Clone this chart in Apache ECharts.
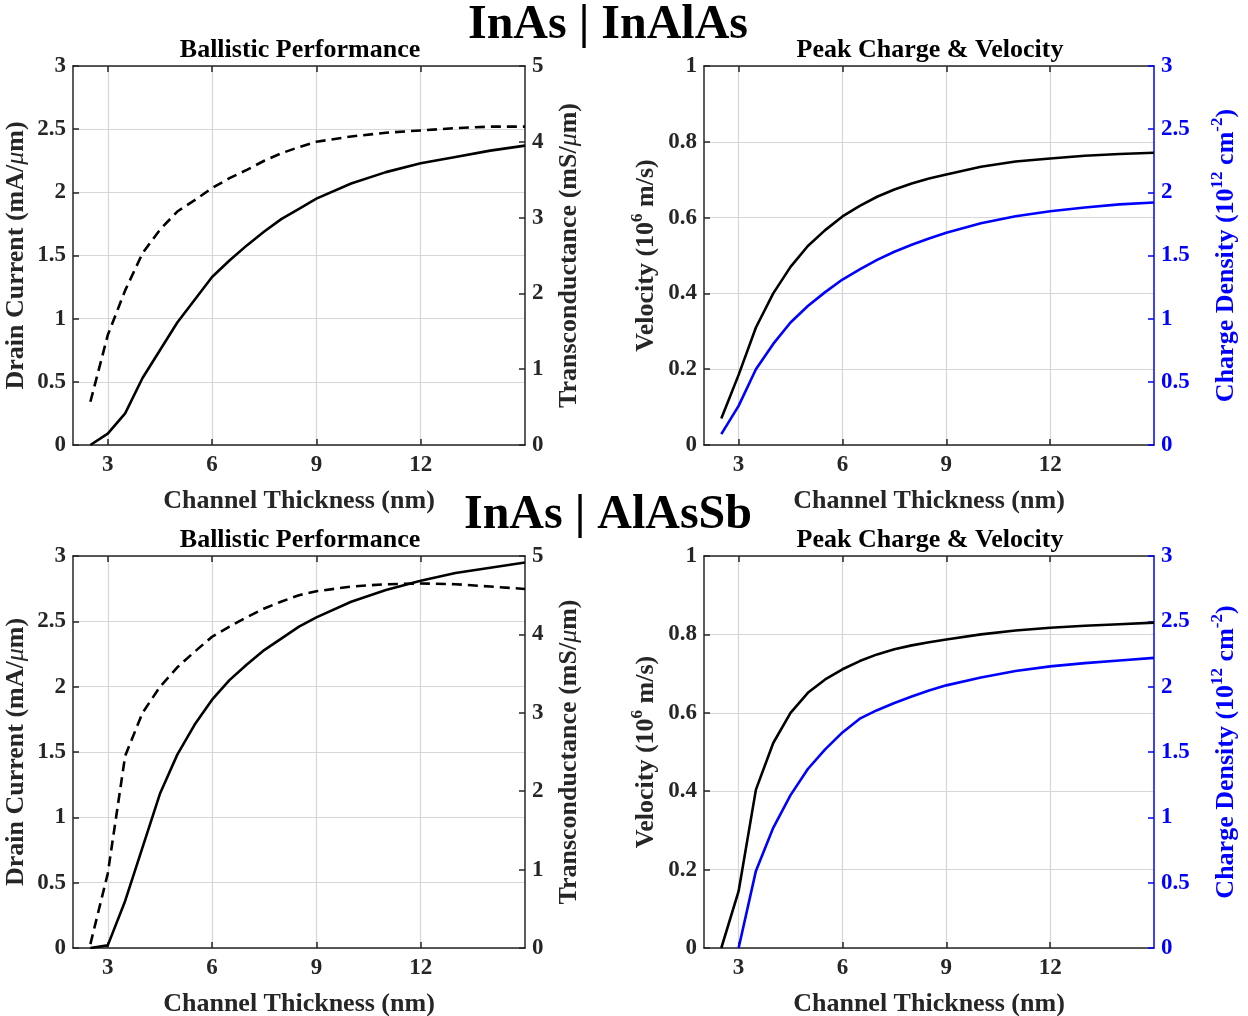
<!DOCTYPE html>
<html>
<head>
<meta charset="utf-8">
<script src="https://cdn.jsdelivr.net/npm/echarts@6/dist/echarts.min.js"></script>
<style>html,body{margin:0;padding:0;background:#fff}#c{width:1248px;height:1016px}</style>
</head>
<body>
<div id="c"></div>
<script>
// ---- data ----
const thickness = [2.5, 3, 3.5, 4, 4.5, 5, 5.5, 6, 6.5, 7, 7.5, 8, 8.5, 9, 10, 11, 12, 13, 14, 15];
const xTicks = [3, 6, 9, 12];

// InAs | InAlAs
const inalasDrainCurrent = [0, 0.09, 0.25, 0.53, 0.75, 0.97, 1.15, 1.33, 1.46, 1.58, 1.69, 1.79, 1.87, 1.95, 2.07, 2.16, 2.23, 2.28, 2.33, 2.37];
const inalasTransconductance = [0.57, 1.45, 2.04, 2.53, 2.84, 3.08, 3.23, 3.39, 3.52, 3.63, 3.75, 3.85, 3.93, 4.0, 4.07, 4.12, 4.15, 4.18, 4.2, 4.2];
const inalasVelocity = [0.07, 0.185, 0.31, 0.40, 0.47, 0.525, 0.567, 0.603, 0.631, 0.655, 0.674, 0.69, 0.703, 0.714, 0.734, 0.748, 0.756, 0.763, 0.768, 0.771];
const inalasCharge = [0.086, 0.31, 0.60, 0.80, 0.97, 1.10, 1.21, 1.31, 1.39, 1.465, 1.53, 1.585, 1.635, 1.68, 1.755, 1.81, 1.85, 1.88, 1.905, 1.92];

// InAs | AlAsSb
const alassbDrainCurrent = [0, 0.02, 0.36, 0.77, 1.18, 1.48, 1.71, 1.90, 2.05, 2.17, 2.28, 2.37, 2.46, 2.53, 2.65, 2.74, 2.81, 2.87, 2.91, 2.95];
const alassbTransconductance = [0.05, 0.95, 2.45, 3.0, 3.33, 3.58, 3.78, 3.97, 4.1, 4.22, 4.33, 4.42, 4.5, 4.55, 4.61, 4.64, 4.65, 4.64, 4.61, 4.58];
const alassbVelocity = [0, 0.145, 0.404, 0.523, 0.60, 0.651, 0.685, 0.711, 0.732, 0.749, 0.762, 0.772, 0.78, 0.787, 0.80, 0.81, 0.817, 0.822, 0.826, 0.83];
const alassbCharge = [null, 0, 0.59, 0.92, 1.17, 1.37, 1.52, 1.65, 1.755, 1.82, 1.875, 1.925, 1.97, 2.01, 2.07, 2.12, 2.155, 2.18, 2.20, 2.22];

// ---- chart ----
const FONT = 'Liberation Serif';
const AX = '#262626';
const BLUE = '#0000ff';
const GRIDC = '#d6d6d6';
function pairs(x, y) { return x.map((v, i) => [v, y[i]]); }

const grids = [
  {left: 73, top: 66, width: 452, height: 379, outerBoundsMode: 'none', containLabel: false},
  {left: 704, top: 66, width: 450, height: 379, outerBoundsMode: 'none', containLabel: false},
  {left: 73, top: 556, width: 452, height: 392, outerBoundsMode: 'none', containLabel: false},
  {left: 704, top: 556, width: 450, height: 392, outerBoundsMode: 'none', containLabel: false}
];

function nameStyle(color) {
  return {
    fontFamily: FONT, fontWeight: 'bold', fontSize: 26, color: color, lineHeight: 34,
    rich: {
      i: {fontFamily: FONT, fontStyle: 'italic', fontWeight: 'normal', fontSize: 26, lineHeight: 34, color: color},
      sup: {fontFamily: FONT, fontWeight: 'bold', fontSize: 17, lineHeight: 17, color: color, verticalAlign: 'top'}
    }
  };
}

const xAxes = [];
const yAxes = [];
for (let g = 0; g < 4; g++) {
  xAxes.push({
    type: 'value', gridIndex: g, min: 2, max: 15, position: 'bottom',
    axisLine: {show: true, onZero: false, lineStyle: {color: AX, width: 1.5}},
    axisTick: {show: true, inside: true, length: 6, customValues: xTicks, lineStyle: {color: AX, width: 1.5}},
    axisLabel: {customValues: xTicks, fontFamily: FONT, fontWeight: 'bold', fontSize: 23, color: AX, margin: 9},
    splitLine: {show: true, lineStyle: {color: GRIDC, width: 1.2}},
    name: 'Channel Thickness (nm)', nameLocation: 'middle', nameGap: 39,
    nameTextStyle: nameStyle(AX)
  });
  xAxes.push({
    type: 'value', gridIndex: g, min: 2, max: 15, position: 'top',
    axisLine: {show: true, onZero: false, lineStyle: {color: AX, width: 1.5}},
    axisTick: {show: true, inside: true, length: 6, customValues: xTicks, lineStyle: {color: AX, width: 1.5}},
    axisLabel: {show: false, customValues: xTicks},
    splitLine: {show: false}
  });
}

function yAxis(g, pos, min, max, interval, color, name, gap, split) {
  return {
    type: 'value', gridIndex: g, position: pos, min: min, max: max, interval: interval,
    axisLine: {show: true, onZero: false, lineStyle: {color: color, width: 1.5}},
    axisTick: {show: true, inside: true, length: 6, lineStyle: {color: color, width: 1.5}},
    axisLabel: {fontFamily: FONT, fontWeight: 'bold', fontSize: 23, color: color, margin: 7},
    splitLine: {show: split, lineStyle: {color: GRIDC, width: 1.2}},
    name: name, nameLocation: 'middle', nameRotate: 90, nameGap: gap,
    nameTextStyle: nameStyle(color)
  };
}

// grid 0: ballistic InAlAs
yAxes.push(yAxis(0, 'left', 0, 3, 0.5, AX, 'Drain Current (mA/{i|μ}m)', 40, true));
yAxes.push(yAxis(0, 'right', 0, 5, 1, AX, 'Transconductance (mS/{i|μ}m)', 27, false));
// grid 1: peak InAlAs
yAxes.push(yAxis(1, 'left', 0, 1, 0.2, AX, 'Velocity (10{sup|6} m/s)', 41, true));
yAxes.push(yAxis(1, 'right', 0, 3, 0.5, BLUE, 'Charge Density (10{sup|12} cm{sup|-2})', 55, false));
// grid 2: ballistic AlAsSb
yAxes.push(yAxis(2, 'left', 0, 3, 0.5, AX, 'Drain Current (mA/{i|μ}m)', 40, true));
yAxes.push(yAxis(2, 'right', 0, 5, 1, AX, 'Transconductance (mS/{i|μ}m)', 27, false));
// grid 3: peak AlAsSb
yAxes.push(yAxis(3, 'left', 0, 1, 0.2, AX, 'Velocity (10{sup|6} m/s)', 41, true));
yAxes.push(yAxis(3, 'right', 0, 3, 0.5, BLUE, 'Charge Density (10{sup|12} cm{sup|-2})', 55, false));

function line(xi, yi, data, color, dashed) {
  return {
    type: 'line', xAxisIndex: xi, yAxisIndex: yi, data: data,
    showSymbol: false, symbol: 'none', animation: false, z: 5,
    lineStyle: {color: color, width: 2.6, type: dashed ? [10, 6] : 'solid', join: 'round'}
  };
}

const series = [
  line(0, 0, pairs(thickness, inalasDrainCurrent), '#000', false),
  line(0, 1, pairs(thickness, inalasTransconductance), '#000', true),
  line(2, 2, pairs(thickness, inalasVelocity), '#000', false),
  line(2, 3, pairs(thickness, inalasCharge), BLUE, false),
  line(4, 4, pairs(thickness, alassbDrainCurrent), '#000', false),
  line(4, 5, pairs(thickness, alassbTransconductance), '#000', true),
  line(6, 6, pairs(thickness, alassbVelocity), '#000', false),
  line(6, 7, pairs(thickness, alassbCharge), BLUE, false)
];

const subTitle = (text, x, y) => ({
  text: text, left: x, top: y, textAlign: 'center',
  textStyle: {fontFamily: FONT, fontWeight: 'bold', fontSize: 26, color: '#000'}
});
const bigTitle = (text, y) => ({
  text: text, left: 603, top: y, textAlign: 'center',
  textStyle: {fontFamily: FONT, fontWeight: 'bold', fontSize: 48, color: '#000'}
});

const option = {
  backgroundColor: '#fff',
  animation: false,
  title: [
    bigTitle('InAs | InAlAs', -3),
    subTitle('Ballistic Performance', 295, 32),
    subTitle('Peak Charge & Velocity', 925, 32),
    bigTitle('InAs | AlAsSb', 487),
    subTitle('Ballistic Performance', 295, 522),
    subTitle('Peak Charge & Velocity', 925, 522)
  ],
  grid: grids,
  xAxis: xAxes,
  yAxis: yAxes,
  series: series
};

const chart = echarts.init(document.getElementById('c'), null, {renderer: 'canvas'});
chart.setOption(option);
</script>
</body>
</html>
